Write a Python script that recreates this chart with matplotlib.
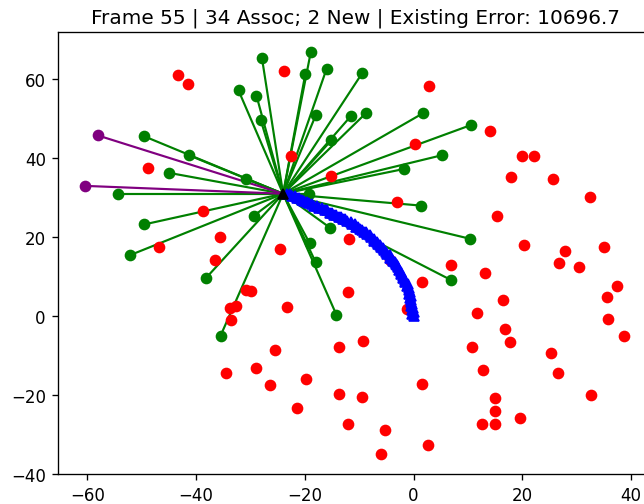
import matplotlib
matplotlib.use("Agg")
import matplotlib.pyplot as plt

# current vehicle position
ego_x = -24.0
ego_y = 31.0

# associated landmarks (green)
assoc_x = [-27.9, -18.9, -19.9, -16.0, -9.4, -18.0, -11.6, -8.8, -15.1, 1.7,
           5.3, -1.7, -28.9, -28.1, -32.2, -49.6, -41.4, -45.0, -30.9, -54.4,
           -49.6, -29.4, -52.2, -38.2, -35.5, -19.3, -15.4, -19.1, -18.0, -14.2,
           1.3, 10.3, 6.9, 10.5]
assoc_y = [65.5, 67.0, 61.5, 62.7, 61.7, 50.9, 50.6, 51.4, 44.6, 51.4,
           40.8, 37.3, 55.9, 49.6, 57.2, 45.6, 40.8, 36.3, 34.8, 31.0,
           23.2, 25.4, 15.4, 9.6, -5.0, 31.0, 22.4, 18.4, 13.6, 0.3,
           28.0, 19.6, 9.1, 48.4]

# new landmarks (purple)
new_x = [-58.1, -60.5]
new_y = [45.8, 33.0]

# unassociated observations (red)
red_x = [-43.4, -41.5, -23.9, 2.8, 0.2, -22.6, -15.1, -48.9, 14.0, 20.0,
         22.1, 18.0, 25.6, -38.8, -35.7, -46.9, -36.6, -30.9, -29.9, -33.8,
         -32.7, -33.5, -3.1, -11.95, -24.6, -4.3, 6.8, 1.5, -12.0, -23.3,
         -1.3, 32.4, 15.4, 20.4, 27.9, 35.1, 26.8, 30.5, 13.05, 37.5,
         35.5, 16.5, 11.6, 35.7, 16.9, 38.8, 17.7, 10.8, 25.2, 26.5,
         12.7, 1.5, 15.0, 15.0, 15.0, 12.5, 19.5, 32.6, -13.7, -9.5,
         -12.0, -5.3, -6.0, 2.6, -9.3, -13.8, -29.0, -34.5, -26.5, -25.5,
         -19.7, -21.5]
red_y = [61.0, 58.9, 62.2, 58.4, 43.6, 40.6, 35.5, 37.5, 46.9, 40.6,
         40.6, 35.3, 34.8, 26.7, 19.9, 17.4, 14.1, 6.5, 6.3, 2.0,
         2.5, -1.0, 29.0, 19.4, 16.9, 14.2, 12.8, 8.6, 6.0, 2.3,
         1.8, 30.2, 25.4, 18.1, 16.6, 17.4, 13.4, 12.3, 10.8, 7.6,
         4.8, 4.0, 0.8, -0.8, -3.3, -5.0, -6.7, -8.0, -9.3, -14.6,
         -13.6, -17.2, -20.8, -24.0, -27.5, -27.3, -26.0, -20.0, -19.7, -20.6,
         -27.3, -29.0, -35.0, -32.7, -6.4, -7.8, -13.1, -14.6, -17.6, -8.6,
         -15.9, -23.4]

# driven path (blue)
traj_x = [0.0, -0.2, 0.0, -0.3, -0.1, -0.4, -0.2, -0.5, -0.4, -0.6,
          -0.5, -0.8, -0.6, -0.9,
          -0.8, -1.2, -1.1, -1.5, -1.5, -1.9, -1.9, -2.3, -2.3, -2.7,
          -2.8, -3.0, -3.3, -3.4, -3.8, -3.9, -4.3, -4.4, -4.8, -5.0,
          -5.4, -5.6, -6.0, -6.1, -6.6, -6.7, -7.2, -7.3, -7.8, -8.0,
          -8.5, -8.8, -9.2, -9.5, -9.9, -10.2, -10.6, -10.8, -11.3, -11.6,
          -12.2, -12.6, -13.0, -13.4, -13.8, -14.2, -14.6, -15.0, -15.4, -15.9,
          -16.3,
          -16.9, -17.4, -17.8, -18.3, -18.7, -19.2, -19.6, -20.1, -20.5, -21.0,
          -21.4, -21.9, -22.3, -22.8, -23.3]
traj_y = [0.0, 0.5, 1.0, 1.5, 2.0, 2.5, 3.0, 3.5, 4.0, 4.5,
          5.0, 5.5, 6.0, 6.6,
          7.1, 7.6, 8.1, 8.6, 9.1, 9.7, 10.1, 10.7, 11.1, 11.7,
          12.3, 12.8, 13.1, 13.6, 13.9, 14.5, 14.8, 15.4, 15.7, 16.3,
          16.7, 17.2, 17.5, 18.0, 18.3, 18.8, 19.1, 19.6, 19.9, 20.5,
          20.8, 21.3, 21.4, 21.9, 22.0, 22.6, 22.6, 23.2, 23.3, 23.8,
          24.0, 24.5, 24.5, 25.0, 25.1, 25.6, 25.6, 26.2, 26.2, 26.8,
          26.8,
          27.3, 27.5, 27.9, 28.0, 28.5, 28.6, 29.0, 29.2, 29.5, 29.8,
          30.0, 30.4, 30.5, 30.9, 31.0]

fig = plt.figure(figsize=(644 / 120, 505 / 120), dpi=120)
ax = fig.add_axes([0.0893, 0.0594, 0.926, 0.875])

for x, y in zip(assoc_x, assoc_y):
    ax.plot([ego_x, x], [ego_y, y], color="green", lw=1.3, zorder=1)
for x, y in zip(new_x, new_y):
    ax.plot([ego_x, x], [ego_y, y], color="purple", lw=1.3, zorder=1)

ax.plot(assoc_x, assoc_y, "o", color="green", zorder=2)
ax.plot(new_x, new_y, "o", color="purple", zorder=2)
ax.plot(red_x, red_y, "o", color="red", zorder=3)
ax.plot(traj_x, traj_y, "^", color="blue", ms=5.5, zorder=4)
ax.plot([ego_x], [ego_y], "^", color="black", zorder=5)

ax.set_xlim(-65.5, 44.2)
ax.set_ylim(-40.1, 72.0)
ax.set_title("Frame 55 | 34 Assoc; 2 New | Existing Error: 10696.7")

plt.savefig("out.png")
